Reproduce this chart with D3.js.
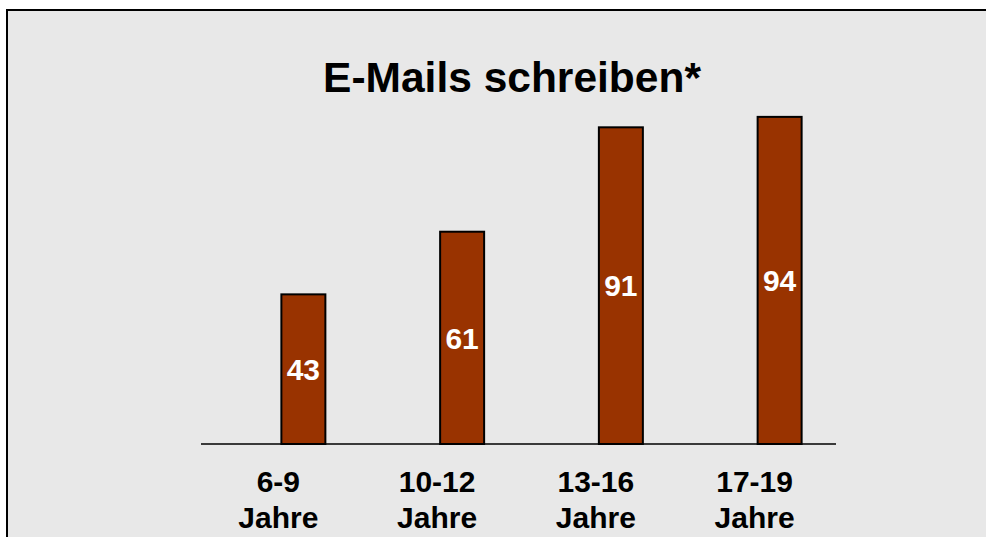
<!DOCTYPE html>
<html><head><meta charset="utf-8">
<script src="https://cdn.jsdelivr.net/npm/d3@7/dist/d3.min.js"></script>
<style>html,body{margin:0;padding:0;background:#fff;}svg{display:block;}</style>
</head><body>
<script>
const categories = ["6-9|Jahre", "10-12|Jahre", "13-16|Jahre", "17-19|Jahre"];
const values = [43, 61, 91, 94];
const title = "E-Mails schreiben*";

const W = 986, H = 537;
const svg = d3.select("body").append("svg").attr("width", W).attr("height", H);
const font = "'Liberation Sans', Arial, sans-serif";

svg.append("rect").attr("x", 7).attr("y", 10).attr("width", W).attr("height", H)
  .attr("fill", "#e8e8e8").attr("stroke", "#000").attr("stroke-width", 2);

svg.append("text").attr("x", 512).attr("y", 92).attr("text-anchor", "middle")
  .attr("font-family", font).attr("font-weight", "bold").attr("font-size", 42.5)
  .attr("fill", "#000").text(title);

const x = d3.scaleBand().domain(categories).range([201, 836]);
const y = d3.scaleLinear().domain([0, 100]).range([444, 96]);
const bw = 44;

const g = svg.append("g");
g.selectAll("rect.bar").data(values).enter().append("rect").attr("class", "bar")
  .attr("x", (d, i) => x(categories[i]) + x.bandwidth() / 2 + 1)
  .attr("y", d => y(d))
  .attr("width", bw)
  .attr("height", d => y(0) - y(d))
  .attr("fill", "#993300").attr("stroke", "#000").attr("stroke-width", 2);

g.selectAll("text.val").data(values).enter().append("text").attr("class", "val")
  .attr("x", (d, i) => x(categories[i]) + x.bandwidth() / 2 + 1 + bw / 2)
  .attr("y", d => (y(d) + y(0)) / 2)
  .attr("dy", "0.36em").attr("text-anchor", "middle")
  .attr("font-family", font).attr("font-weight", "bold").attr("font-size", 30)
  .attr("fill", "#fff").text(d => d);

svg.append("line").attr("x1", 201).attr("x2", 836).attr("y1", y(0)).attr("y2", y(0))
  .attr("stroke", "#000").attr("stroke-width", 1.5);

const lab = svg.selectAll("text.cat").data(categories).enter().append("text").attr("class", "cat")
  .attr("text-anchor", "middle").attr("font-family", font).attr("font-weight", "bold")
  .attr("font-size", 30).attr("fill", "#000");
lab.each(function(d) {
  const parts = d.split("|");
  const t = d3.select(this);
  const cx = x(d) + x.bandwidth() / 2 - 2;
  parts.forEach((p, k) => {
    t.append("tspan").attr("x", cx).attr("y", 492 + k * 36).text(p);
  });
});
</script>
</body></html>
